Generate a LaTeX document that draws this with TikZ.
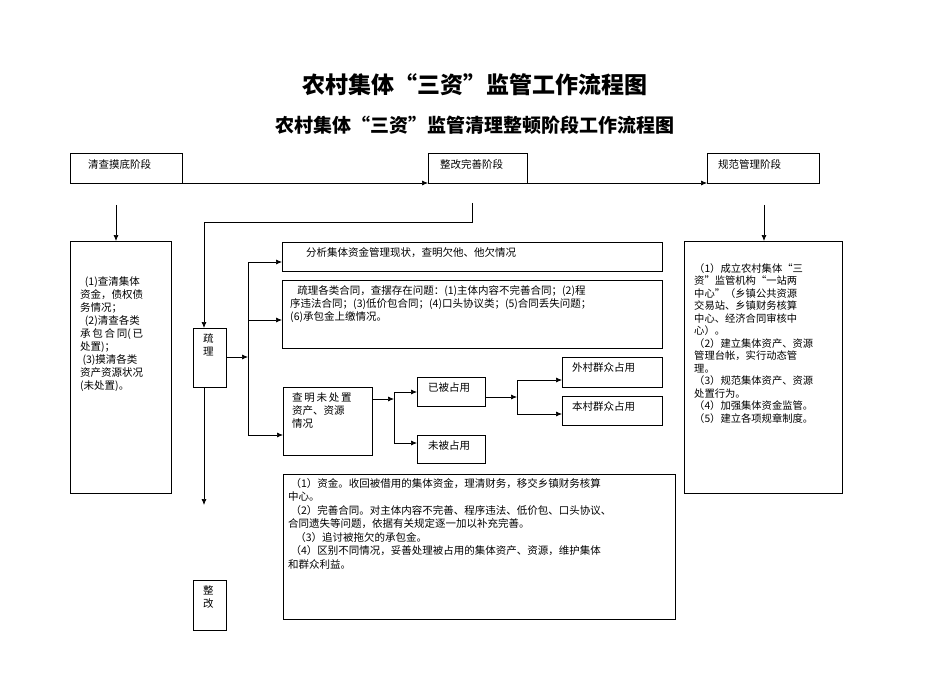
\documentclass[tikz,border=0pt]{standalone}
\usepackage{fontspec}
\setmainfont{Noto Sans CJK SC}
\usetikzlibrary{arrows.meta}
\begin{document}
\begin{tikzpicture}[x=1pt,y=-1pt,
  box/.style={draw,thick,line width=0.8pt,inner sep=0pt},
  txt/.style={anchor=north west,align=left,inner sep=0pt,font=\fontsize{10.5}{13}\selectfont},
  arr/.style={-{Latex[length=6pt,width=5pt]},line width=0.7pt},
  ln/.style={line width=0.7pt}]
\useasboundingbox (0,0) rectangle (950,687);
\node[font=\bfseries\fontsize{23}{26}\selectfont] (t1) at (475,85) {农村集体“三资”监管工作流程图};
\node[font=\bfseries\fontsize{19}{22}\selectfont] (t2) at (475,125) {农村集体“三资”监管清理整顿阶段工作流程图};
% stage boxes
\draw[box] (70,153) rectangle (182,183); \node[txt] (s1) at (88,159) {清查摸底阶段};
\draw[box] (428,153) rectangle (527,183); \node[txt] (s2) at (440,159) {整改完善阶段};
\draw[box] (707,153) rectangle (819,183); \node[txt] (s3) at (718,159) {规范管理阶段};
\coordinate (a1) at (182,183); \coordinate (a2) at (428,183);
\coordinate (a3) at (527,183); \coordinate (a4) at (707,183);
\draw[arr] (a1)--(a2); \draw[arr] (a3)--(a4);
% left column
\coordinate (l0) at (116,205); \coordinate (l1) at (116,241);
\draw[arr] (l0)--(l1);
\draw[box] (70,241) rectangle (171,493);
\node[txt] (lt) at (80,276) {\ \ (1)查清集体\\资金，债权债\\务情况；\\\ \ (2)清查各类\\承\,包\,合\,同(\,已\\处置)；\\\ (3)摸清各类\\资产资源状况\\(未处置)。};
% right column
\coordinate (r0) at (764,205); \coordinate (r1) at (764,241);
\draw[arr] (r0)--(r1);
\draw[box] (684,241) rectangle (842,493);
\node[txt,font=\fontsize{10.3}{12.5}\selectfont] (rt) at (694,263) {（1）成立农村集体“三\\资”监管机构“一站两\\中心”（乡镇公共资源\\交易站、乡镇财务核算\\中心、经济合同审核中\\心）。\\（2）建立集体资产、资源\\管理台帐，实行动态管\\理。\\（3）规范集体资产、资源\\处置行为。\\（4）加强集体资金监管。\\（5）建立各项规章制度。};
% middle
\coordinate (m0) at (472,203); \coordinate (m1) at (472,222); \coordinate (m2) at (204,222); \coordinate (m3) at (204,328);
\draw[arr] (m0)--(m1)--(m2)--(m3);
\draw[box] (193,328) rectangle (226,387); \node[txt] (sl) at (203,333) {疏\\理};
\coordinate (d0) at (204,387); \coordinate (d1) at (204,505);
\draw[arr] (d0)--(d1);
\draw[box] (193,580) rectangle (226,630); \node[txt] (zg) at (203,585) {整\\改};
\coordinate (b0) at (226,357); \coordinate (b1) at (248,357);
\draw[arr] (b0)--(b1);
\coordinate (v1) at (248,262); \coordinate (v2) at (248,320); \coordinate (v3) at (248,435);
\coordinate (e1) at (282,262); \coordinate (e2) at (282,320); \coordinate (e3) at (283,435);
\draw[ln] (v1)--(v3);
\draw[arr] (v1)--(e1); \draw[arr] (v2)--(e2); \draw[arr] (v3)--(e3);
\draw[box] (282,242) rectangle (662,271);
\node[txt] (x1) at (306,247) {分析集体资金管理现状，查明欠他、他欠情况};
\draw[box] (282,280) rectangle (662,348);
\node[txt] (x2) at (290,285) {\ \ \ 疏理各类合同，查摆存在问题：(1)主体内容不完善合同；(2)程\\序违法合同；(3)低价包合同；(4)口头协议类；(5)合同丢失问题；\\(6)承包金上缴情况。};
\draw[box] (283,387) rectangle (372,455);
\node[txt] (x3) at (292,392) {查\,明\,未\,处\,置\\资产、资源\\情况};
\coordinate (c0) at (372,399); \coordinate (c1) at (394,399);
\draw[arr] (c0)--(c1);
\coordinate (c2) at (394,392); \coordinate (c3) at (394,443);
\draw[ln] (c2)--(c3);
\coordinate (c4) at (417,392); \coordinate (c5) at (417,443);
\draw[arr] (c2)--(c4); \draw[arr] (c3)--(c5);
\draw[box] (417,377) rectangle (485,406); \node[txt] (y1) at (428,382) {已被占用};
\draw[box] (417,435) rectangle (485,463); \node[txt] (y2) at (428,440) {未被占用};
\coordinate (g0) at (485,397); \coordinate (g1) at (517,397);
\draw[arr] (g0)--(g1);
\coordinate (g2) at (517,380); \coordinate (g3) at (517,414);
\draw[ln] (g2)--(g3);
\coordinate (g4) at (562,380); \coordinate (g5) at (562,414);
\draw[arr] (g2)--(g4); \draw[arr] (g3)--(g5);
\draw[box] (562,357) rectangle (662,387); \node[txt] (w1) at (572,362) {外村群众占用};
\draw[box] (562,396) rectangle (662,425); \node[txt] (w2) at (572,401) {本村群众占用};
% bottom
\draw[box] (283,474) rectangle (675,619);
\node[txt,font=\fontsize{10.5}{13.5}\selectfont] (bt) at (288,478) {\ （1）资金。收回被借用的集体资金，理清财务，移交乡镇财务核算\\中心。\\\ （2）完善合同。对主体内容不完善、程序违法、低价包、口头协议、\\合同遗失等问题，依据有关规定逐一加以补充完善。\\\ \ \ （3）追讨被拖欠的承包金。\\\ （4）区别不同情况，妥善处理被占用的集体资产、资源，维护集体\\和群众利益。};
\end{tikzpicture}
\end{document}
